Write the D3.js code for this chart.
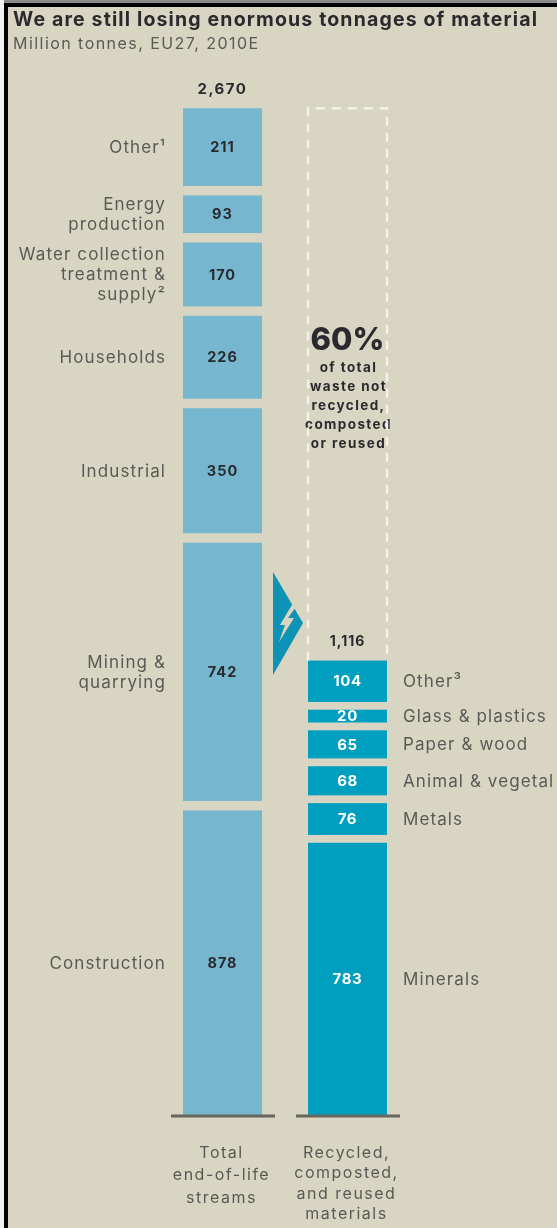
<!DOCTYPE html>
<html>
<head>
<meta charset="utf-8">
<script src="https://cdn.jsdelivr.net/npm/d3@7"></script>
<style>
  html, body { margin: 0; padding: 0; background: #fff; }
  svg { display: block; filter: blur(0.6px); }
  text { font-family: "Inter", "Open Sans", sans-serif; }
</style>
</head>
<body>
<div id="chart"></div>
<script>
var totalCategories = [["Other¹"], ["Energy", "production"], ["Water collection", "treatment &", "supply²"], ["Households"], ["Industrial"], ["Mining &", "quarrying"], ["Construction"]];
var totalValues = [211, 93, 170, 226, 350, 742, 878];

var recycledCategories = ["Other³", "Glass & plastics", "Paper & wood", "Animal & vegetal", "Metals", "Minerals"];
var recycledValues = [104, 20, 65, 68, 76, 783];

var columnLabels = [["Total", "end-of-life", "streams"], ["Recycled,", "composted,", "and reused", "materials"]];
var columnTotals = ["2,670", "1,116"];
var calloutLines = ["of total", "waste not", "recycled,", "composted", "or reused"];

var width = 557, height = 1228;
var baseY = 1115;
var pad = 6;   // every block is drawn a bit longer than its value
var leftGap = 9.5, rightGap = 7.8;

var bg = "#d8d5c2", light = "#76b7cf", dark = "#009fbf", ink = "#2a2a2e", grey = "#5a5a54";

var svg = d3.select("#chart").append("svg")
    .attr("width", width)
    .attr("height", height);

svg.append("rect").attr("width", width).attr("height", height).attr("fill", bg);
svg.append("rect").attr("width", width).attr("height", 3).attr("fill", "#8a8a8a");
svg.append("rect").attr("y", 3).attr("width", width).attr("height", 4).attr("fill", "#000");
svg.append("rect").attr("width", 4).attr("height", height).attr("fill", "#f2f2f2");
svg.append("rect").attr("x", 4).attr("y", 3).attr("width", 4).attr("height", height).attr("fill", "#000");

var xScale = d3.scaleBand()
    .domain([0, 1])
    .range([183, 387])
    .paddingInner(0.368)
    .paddingOuter(0);

var lenScale = d3.scaleLinear()
    .domain([0, 2670])
    .range([0, 907.8]);

// stack from the top of the column down to the baseline
function stack(values, gap) {
    var y = baseY;
    var out = [];
    for (var i = values.length - 1; i >= 0; i--) {
        var h = lenScale(values[i]) + pad;
        y -= h;
        out[i] = { value: values[i], y: y, h: h };
        y -= gap;
    }
    return out;
}

var leftStack = stack(totalValues, leftGap);
var rightStack = stack(recycledValues, rightGap);

function multiLine(g, lines, x, cy, lineH, anchor, size, color, weight, spacing) {
    var top = cy - (lines.length - 1) * lineH / 2;
    lines.forEach(function (line, i) {
        g.append("text")
            .attr("x", x)
            .attr("y", top + i * lineH)
            .attr("dy", "0.35em")
            .attr("text-anchor", anchor)
            .attr("font-size", size)
            .attr("font-weight", weight || 400)
            .attr("letter-spacing", spacing || 0)
            .attr("fill", color)
            .text(line);
    });
}

// title
svg.append("text").attr("x", 13).attr("y", 26)
    .attr("font-size", 19.5).attr("font-weight", 700).attr("letter-spacing", 1.15).attr("fill", ink)
    .text("We are still losing enormous tonnages of material");
svg.append("text").attr("x", 13).attr("y", 49)
    .attr("font-size", 16).attr("letter-spacing", 1.45).attr("fill", grey)
    .text("Million tonnes, EU27, 2010E");

// left column
svg.append("g").selectAll("rect")
    .data(leftStack).enter()
    .append("rect")
    .attr("x", xScale(0))
    .attr("y", function (d) { return d.y; })
    .attr("width", xScale.bandwidth())
    .attr("height", function (d) { return d.h; })
    .attr("fill", light);

// right column
svg.append("g").selectAll("rect")
    .data(rightStack).enter()
    .append("rect")
    .attr("x", xScale(1))
    .attr("y", function (d) { return d.y; })
    .attr("width", xScale.bandwidth())
    .attr("height", function (d) { return d.h; })
    .attr("fill", dark);

var labels = svg.append("g");
var lx = xScale(0) + xScale.bandwidth() / 2;
var rx = xScale(1) + xScale.bandwidth() / 2;

leftStack.forEach(function (d, i) {
    var cy = d.y + d.h / 2;
    multiLine(labels, [String(d.value)], lx, cy, 0, "middle", 14.5, ink, 700, 1);
    multiLine(labels, totalCategories[i], 166, cy, 20, "end", 17, grey, 400, 1.1);
});

rightStack.forEach(function (d, i) {
    var cy = d.y + d.h / 2;
    multiLine(labels, [String(d.value)], rx, cy, 0, "middle", 15, "#fff", 700, 0.6);
    multiLine(labels, [recycledCategories[i]], 403, cy, 0, "start", 17, grey, 400, 1.1);
});

// totals
var leftTop = leftStack[0].y, rightTop = rightStack[0].y;
multiLine(labels, [columnTotals[0]], lx, leftTop - 19, 0, "middle", 15, ink, 700, 1.5);
multiLine(labels, [columnTotals[1]], rx, rightTop - 19, 0, "middle", 14, ink, 700, 1);

// dashed outline of the part that is not recycled
var bx0 = xScale(1), bx1 = xScale(1) + xScale.bandwidth();
svg.append("path")
    .attr("d", d3.line()([[bx0, rightTop], [bx0, leftTop], [bx1, leftTop], [bx1, rightTop]]))
    .attr("fill", "none")
    .attr("stroke", "#f3f2ea")
    .attr("stroke-width", 2.5)
    .attr("stroke-dasharray", "9 7");

// callout
svg.append("text").attr("x", rx).attr("y", 350)
    .attr("text-anchor", "middle").attr("font-size", 31).attr("font-weight", 800).attr("fill", ink)
    .text("60%");
multiLine(labels, calloutLines, rx + 1, 405, 19, "middle", 13.5, ink, 700, 1.4);

// arrow with the lightning bolt
svg.append("path")
    .attr("d", "M273,572L303,623L273,675Z")
    .attr("fill", "#0e93b5");
svg.append("path")
    .attr("d", "M296,598L280,625L285,625L279,642L294,618L288,618L298,604Z")
    .attr("fill", bg);

// baselines and column labels
var columnLineH = [22.5, 20.5];
[0, 1].forEach(function (c) {
    svg.append("line")
        .attr("x1", xScale(c) - 12)
        .attr("x2", xScale(c) + xScale.bandwidth() + 13)
        .attr("y1", baseY + 1)
        .attr("y2", baseY + 1)
        .attr("stroke", "#66665c")
        .attr("stroke-width", 3);
    var lines = columnLabels[c];
    var lh = columnLineH[c];
    multiLine(labels, lines, xScale(c) + xScale.bandwidth() / 2 - 1, 1152 + (lines.length - 1) * lh / 2, lh, "middle", 16, grey, 400, 1.5);
});
</script>
</body>
</html>
